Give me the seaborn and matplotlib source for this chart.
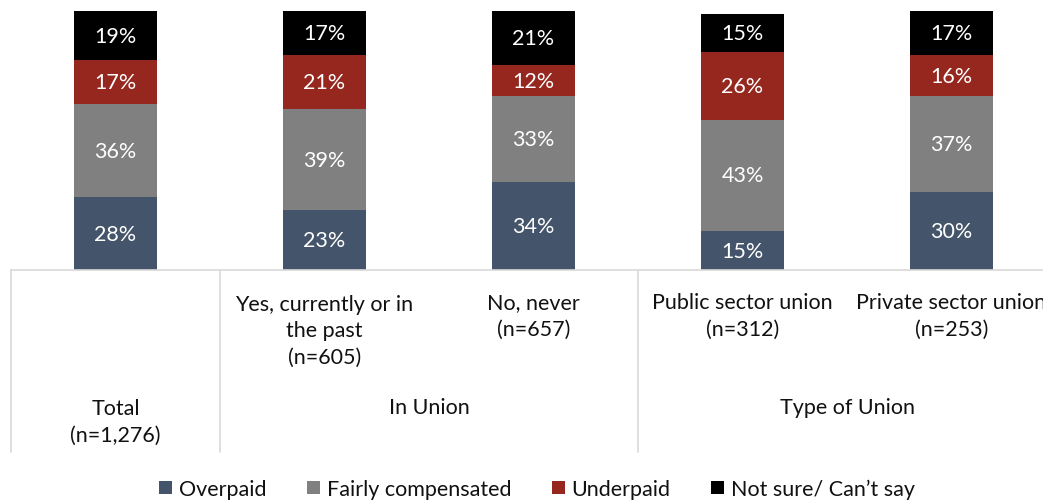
import matplotlib
matplotlib.use("Agg")
import matplotlib.pyplot as plt
import matplotlib.transforms as mtransforms
from matplotlib.lines import Line2D
from matplotlib.patches import Patch
import numpy as np
import pandas as pd
import seaborn as sns

# Survey data: share of respondents per answer, by group
groups = ["Total", "Yes", "No", "Public", "Private"]
group_labels = [
    "Total\n(n=1,276)",
    "Yes, currently or in\nthe past\n(n=605)",
    "No, never\n(n=657)",
    "Public sector union\n(n=312)",
    "Private sector union\n(n=253)",
]
overpaid = [28, 23, 34, 15, 30]
fairly = [36, 39, 33, 43, 37]
underpaid = [17, 21, 12, 26, 16]
not_sure = [19, 17, 21, 15, 17]

series_names = ["Overpaid", "Fairly compensated", "Underpaid", "Not sure/ Can\u2019t say"]
series_values = [overpaid, fairly, underpaid, not_sure]
colors = ["#44546A", "#808080", "#95271F", "#000000"]

super_groups = ["In Union", "Type of Union"]

sns.set_style("white")
plt.rcParams["font.family"] = ["Lato", "DejaVu Sans"]
FS = 15.5
TXT = "#111111"

fig = plt.figure(figsize=(10.43, 5.02), dpi=100)
# Axes run slightly past the right edge of the figure
ax = fig.add_axes([11 / 1043, 231 / 502, 1045 / 1043, 259 / 502])

df = pd.DataFrame({"group": groups})
cum = np.zeros(len(groups))
cums = []
for vals in series_values:
    cum = cum + np.array(vals)
    cums.append(cum.copy())

# Stacked bars: draw cumulative totals from the top series down
for name, c, col in reversed(list(zip(series_names, cums, colors))):
    df["value"] = c
    sns.barplot(data=df, x="group", y="value", order=groups, color=col,
                width=0.40, saturation=1, ax=ax, errorbar=None, linewidth=0)

# Segment labels
for i in range(len(groups)):
    bottom = 0
    for vals in series_values:
        v = vals[i]
        ax.text(i, bottom + v / 2, f"{v}%", ha="center", va="center",
                color="white", fontsize=FS)
        bottom += v

ax.set_xlim(-0.5, 4.5)
ax.set_ylim(0, 100)
ax.set_xlabel("")
ax.set_ylabel("")
ax.set_xticks([])
ax.set_yticks([])
for s in ["top", "right", "left"]:
    ax.spines[s].set_visible(False)
ax.spines["bottom"].set_color("#D9D9D9")
ax.spines["bottom"].set_linewidth(1.2)

trans = mtransforms.blended_transform_factory(ax.transData, ax.transAxes)

def ypos(px):
    return (271 - px) / 259

# Group separators below the axis
for xs in [-0.5, 0.5, 2.5]:
    ax.add_line(Line2D([xs, xs], [0, ypos(453)], transform=trans,
                       color="#D9D9D9", lw=1.2, clip_on=False))

# Category labels
centers = [422.5, 331, 316.5, 316.5, 316.5]
for i, (lab, yc) in enumerate(zip(group_labels, centers)):
    ax.text(i, ypos(yc), lab, transform=trans, ha="center", va="center",
            fontsize=FS, color=TXT, linespacing=1.4, clip_on=False)

# Group headings
ax.text(1.5, ypos(408), super_groups[0], transform=trans, ha="center",
        va="center", fontsize=FS, color=TXT, clip_on=False)
ax.text(3.5, ypos(408), super_groups[1], transform=trans, ha="center",
        va="center", fontsize=FS, color=TXT, clip_on=False)

handles = [Patch(facecolor=c, edgecolor="none") for c in colors]
fig.legend(handles, series_names, loc="center", ncol=4,
           bbox_to_anchor=(537 / 1043, 1 - 490 / 502), frameon=False,
           fontsize=FS, handlelength=0.6, handleheight=0.6,
           handletextpad=0.3, columnspacing=1.9, labelcolor=TXT,
           borderpad=0)

fig.savefig("out.png", dpi=100)
